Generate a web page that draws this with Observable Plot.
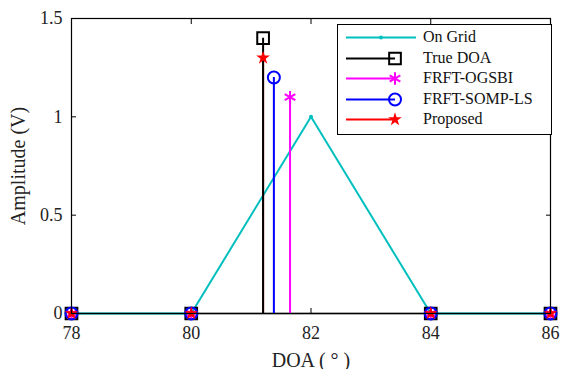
<!DOCTYPE html>
<html>
<head>
<meta charset="utf-8">
<script src="https://cdn.jsdelivr.net/npm/d3@7"></script>
<script src="https://cdn.jsdelivr.net/npm/@observablehq/plot@0.6"></script>
<style>
  html, body { margin: 0; padding: 0; background: #fff; }
  #wrap { position: relative; width: 561px; height: 369px; font-family: "Liberation Serif", "Times New Roman", serif; }
  #wrap svg.plot text { fill: #222; font-family: "Liberation Serif", serif !important; }
  #wrap svg.plot g[aria-label$="tick label"] { font-size: 18px !important; }
  #wrap svg.plot g[aria-label="x-axis label"], #wrap svg.plot g[aria-label="y-axis label"] { font-size: 20px !important; }
  #legend { position: absolute; left: 337px; top: 24px; width: 213px; height: 107px; background: #fff; border: 1px solid #000; font-size: 16px; color: #111; padding-top: 2px; box-sizing: content-box; }
  #legend .row { position: relative; height: 20.6px; }
  #legend .row svg { position: absolute; left: 0; top: 0; }
  #legend .row span { position: absolute; left: 85px; top: 0; line-height: 20.6px; white-space: nowrap; }
</style>
</head>
<body>
<div id="wrap"></div>
<script>
// ---- data ----
const gridX = [78, 80, 82, 84, 86];
const gridY = [0, 0, 1, 0, 0];
const trueX = [78, 80, 81.2, 84, 86];
const trueY = [0, 0, 1.4, 0, 0];
const ogsbiX = [78, 80, 81.65, 84, 86];
const ogsbiY = [0, 0, 1.1, 0, 0];
const sompX = [78, 80, 81.38, 84, 86];
const sompY = [0, 0, 1.2, 0, 0];
const propX = [78, 80, 81.2, 84, 86];
const propY = [0, 0, 1.3, 0, 0];
const xTicks = [78, 80, 82, 84, 86];
const yTicks = [0, 0.5, 1, 1.5];
const xLabel = "DOA ( ° )";
const yLabel = "Amplitude (V)";
const seriesNames = ["On Grid", "True DOA", "FRFT-OGSBI", "FRFT-SOMP-LS", "Proposed"];
const colors = { grid: "#00bfbf", truth: "#000000", ogsbi: "#ff00ff", somp: "#0000ff", prop: "#ff0000" };

const zip = (xs, ys) => xs.map((x, i) => ({ x, y: ys[i] }));
const grid = zip(gridX, gridY);
const truth = zip(trueX, trueY);
const ogsbi = zip(ogsbiX, ogsbiY);
const somp = zip(sompX, sompY);
const prop = zip(propX, propY);

const fmt = d => String(d);

const chart = Plot.plot({
  width: 561,
  height: 369,
  marginLeft: 71,
  marginRight: 11,
  marginTop: 18,
  marginBottom: 56,
  style: { fontFamily: "Liberation Serif, serif", fontSize: "18px", background: "#fff", overflow: "visible" },
  x: { domain: [78, 86] },
  y: { domain: [0, 1.5] },
  marks: [
    Plot.axisX({ ticks: xTicks, tickSize: -5, tickPadding: 18, tickFormat: fmt, fontSize: 18, label: null, stroke: "#000" }),
    Plot.axisX({ ticks: [], label: xLabel, labelAnchor: "center", labelArrow: "none", labelOffset: 53, fontSize: 20 }),
    Plot.axisX({ anchor: "top", ticks: xTicks, tickSize: -5, tickFormat: () => "", label: null, stroke: "#000" }),
    Plot.axisY({ ticks: yTicks, tickSize: -5, tickPadding: 14, tickFormat: fmt, fontSize: 18, label: null, stroke: "#000" }),
    Plot.axisY({ ticks: [], label: yLabel, labelAnchor: "center", labelArrow: "none", labelOffset: 61, fontSize: 20 }),
    Plot.axisY({ anchor: "right", ticks: yTicks, tickSize: -5, tickFormat: () => "", label: null, stroke: "#000" }),
    Plot.ruleY([0], { stroke: "#000", strokeWidth: 1.5 }),
    Plot.line(grid, { x: "x", y: "y", stroke: colors.grid, strokeWidth: 2 }),
    Plot.dot(grid, { x: "x", y: "y", r: 2, fill: colors.grid }),
    Plot.ruleX(prop, { x: "x", y1: 0, y2: "y", stroke: colors.prop, strokeWidth: 2 }),
    Plot.ruleX(truth, { x: "x", y1: 0, y2: "y", stroke: colors.truth, strokeWidth: 2 }),
    Plot.ruleX(ogsbi, { x: "x", y1: 0, y2: "y", stroke: colors.ogsbi, strokeWidth: 2 }),
    Plot.ruleX(somp, { x: "x", y1: 0, y2: "y", stroke: colors.somp, strokeWidth: 2 }),
    Plot.dot(truth, { x: "x", y: "y", symbol: "square", r: 6.6, stroke: colors.truth, strokeWidth: 2, fill: "none" }),
    Plot.dot(ogsbi, { x: "x", y: "y", symbol: "asterisk", r: 5.8, stroke: colors.ogsbi, strokeWidth: 2 }),
    Plot.dot(somp, { x: "x", y: "y", symbol: "circle", r: 6, stroke: colors.somp, strokeWidth: 2, fill: "none" }),
    Plot.dot(prop, { x: "x", y: "y", symbol: "star", r: 4.3, fill: colors.prop, stroke: "none" }),
    Plot.frame({ stroke: "#000", strokeWidth: 1.2 })
  ]
});
chart.classList.add("plot");
const wrap = document.getElementById("wrap");
wrap.appendChild(chart);

// ---- legend ----
const legend = document.createElement("div");
legend.id = "legend";
wrap.appendChild(legend);
const legendSpec = [
  { name: seriesNames[0], color: colors.grid, kind: "dotline" },
  { name: seriesNames[1], color: colors.truth, kind: "square" },
  { name: seriesNames[2], color: colors.ogsbi, kind: "asterisk" },
  { name: seriesNames[3], color: colors.somp, kind: "circle" },
  { name: seriesNames[4], color: colors.prop, kind: "star" }
];
const area = r => Math.PI * r * r;
legendSpec.forEach(s => {
  const row = document.createElement("div");
  row.className = "row";
  const svg = d3.create("svg").attr("width", 82).attr("height", 21);
  const cy = 10.5;
  if (s.kind === "dotline") {
    svg.append("line").attr("x1", 8).attr("x2", 78).attr("y1", cy).attr("y2", cy).attr("stroke", s.color).attr("stroke-width", 2);
    svg.append("circle").attr("cx", 43).attr("cy", cy).attr("r", 2).attr("fill", s.color);
  } else {
    svg.append("line").attr("x1", 8).attr("x2", 57).attr("y1", cy).attr("y2", cy).attr("stroke", s.color).attr("stroke-width", 2);
    const sym = { square: [d3.symbolSquare, 6.6], asterisk: [d3.symbolAsterisk, 5.8], circle: [d3.symbolCircle, 6], star: [d3.symbolStar, 4.3] }[s.kind];
    const p = svg.append("path").attr("transform", `translate(57,${cy})`).attr("d", d3.symbol(sym[0], area(sym[1]))());
    if (s.kind === "star") p.attr("fill", s.color);
    else p.attr("fill", s.kind === "asterisk" ? s.color : "none").attr("stroke", s.color).attr("stroke-width", 2);
  }
  row.appendChild(svg.node());
  const t = document.createElement("span");
  t.textContent = s.name;
  row.appendChild(t);
  legend.appendChild(row);
});
</script>
</body>
</html>
